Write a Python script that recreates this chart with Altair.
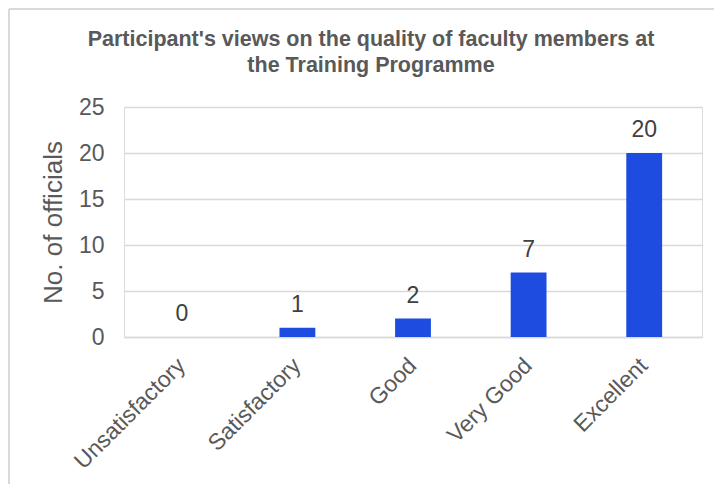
import altair as alt
import pandas as pd

categories = ["Unsatisfactory", "Satisfactory", "Good", "Very Good", "Excellent"]
officials = [0, 1, 2, 7, 20]
y_ticks = [0, 5, 10, 15, 20, 25]
title_lines = ["Participant's views on the quality of faculty members at",
               "the Training Programme"]

df = pd.DataFrame({"category": categories, "officials": officials})

FONT = "Liberation Sans"
W, H = 578, 230

base = alt.Chart(df).encode(
    x=alt.X(
        "category:N",
        sort=categories,
        scale=alt.Scale(paddingInner=0.69, paddingOuter=0.345),
        axis=alt.Axis(
            title=None,
            labelAngle=-45,
            labelAlign="right",
            labelBaseline="top",
            labelFont=FONT,
            labelFontSize=23,
            labelColor="#595959",
            labelPadding=17,
            labelOffset=-8,
            ticks=False,
            domain=True,
            domainColor="#d9d9d9",
            domainWidth=1.5,
            grid=False,
        ),
    ),
    y=alt.Y(
        "officials:Q",
        scale=alt.Scale(domain=[0, 25]),
        axis=alt.Axis(
            values=y_ticks,
            title="No. of officials",
            titleFont=FONT,
            titleFontSize=26,
            titleFontWeight="normal",
            titleColor="#595959",
            titlePadding=12,
            labelFont=FONT,
            labelFontSize=23,
            labelColor="#595959",
            labelPadding=20,
            ticks=False,
            domain=False,
            gridColor="#d9d9d9",
            gridWidth=1.5,
        ),
    ),
)

bars = base.mark_bar(color="#1f4ce0")

labels = base.mark_text(
    dy=-23, baseline="middle", font=FONT, fontSize=23, color="#404040"
).encode(text="officials:Q")


def title_line(text, ypix):
    return alt.Chart(pd.DataFrame({"line": [text]})).mark_text(
        font=FONT, fontSize=21.5, fontWeight="bold", color="#595959",
        align="center", baseline="alphabetic"
    ).encode(text="line:N", x=alt.value(247), y=alt.value(ypix))


title1 = title_line(title_lines[0], -61)
title2 = title_line(title_lines[1], -35)

border = alt.Chart(df).mark_rule(color="#d9d9d9", strokeWidth=2).encode(
    x=alt.value(-115), y=alt.value(-98), y2=alt.value(H + 150)
)
border_top = alt.Chart(df).mark_rule(color="#d9d9d9", strokeWidth=2).encode(
    x=alt.value(-115), x2=alt.value(W + 20), y=alt.value(-98)
)

chart = (
    alt.layer(bars, labels, title1, title2, border, border_top)
    .properties(
        width=W,
        height=H,
        padding={"left": 116, "top": 99, "right": 12, "bottom": 147},
        autosize=alt.AutoSizeParams(type="none"),
    )
    .configure_view(stroke=None)
    .configure(background="white")
)

chart.save("out.html", embed_options={"renderer": "svg", "actions": False})
